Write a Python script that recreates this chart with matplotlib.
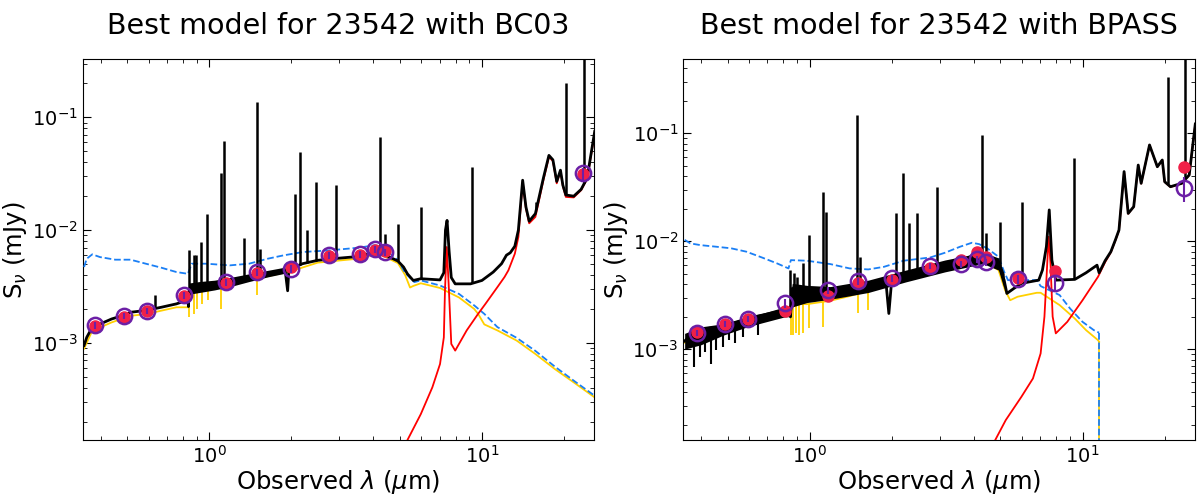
import numpy as np
import matplotlib
matplotlib.use("Agg")
from matplotlib import pyplot as plt

# ---- BC03 panel ----
bc_tot_wav = [0.348, 0.356, 0.373, 0.398, 0.439, 0.483, 0.515, 0.586, 0.667, 0.759, 0.80, 0.836,
              0.840, 0.845, 0.863, 0.921, 1.047, 1.19, 1.40, 1.64, 1.90, 1.94, 1.96, 2.00, 2.20,
              2.50, 2.84, 3.56, 4.05, 4.32, 4.92, 5.16, 5.33, 5.60, 5.97, 7.02, 7.25, 7.35, 7.45,
              7.58, 7.72, 7.98, 9.08, 10.0, 11.0, 11.8, 12.3, 12.7, 13.2, 13.6, 14.1, 14.5, 14.9,
              15.7, 16.8, 17.6, 18.2, 18.8, 19.4, 19.8, 20.3, 21.7, 23.1, 24.3, 25.9]
bc_tot_flux = [9.5e-4, 1.12e-3, 1.38e-3, 1.47e-3, 1.63e-3, 1.75e-3, 1.87e-3, 1.94e-3, 2.07e-3,
               2.22e-3, 2.32e-3, 2.38e-3, 2.1e-3, 3.0e-3, 3.02e-3, 3.08e-3, 3.23e-3, 3.46e-3,
               3.84e-3, 4.10e-3, 4.40e-3, 2.9e-3, 4.45e-3, 4.55e-3, 5.04e-3, 5.40e-3, 5.58e-3,
               5.85e-3, 6.40e-3, 6.18e-3, 5.32e-3, 4.71e-3, 4.10e-3, 3.58e-3, 3.71e-3, 3.62e-3,
               4.2e-3, 1.0e-2, 1.22e-2, 6.5e-3, 3.8e-3, 3.34e-3, 3.34e-3, 3.58e-3, 4.25e-3,
               5.04e-3, 6.0e-3, 6.3e-3, 7.2e-3, 1.0e-2, 2.77e-2, 1.6e-2, 1.2e-2, 1.4e-2, 2.9e-2,
               4.6e-2, 4.2e-2, 2.7e-2, 3.4e-2, 2.5e-2, 2.05e-2, 2.0e-2, 2.3e-2, 2.9e-2, 7.5e-2]

# spread of the noisy model spectrum (upper / lower envelope)
bc_band_wav = [0.845, 0.921, 1.047, 1.19, 1.40, 1.64, 1.90]
bc_band_hi = [3.4e-3, 3.5e-3, 3.6e-3, 3.8e-3, 4.1e-3, 4.4e-3, 4.7e-3]
bc_band_lo = [2.7e-3, 2.8e-3, 2.95e-3, 3.15e-3, 3.5e-3, 3.85e-3, 4.15e-3]

bc_unatt_wav = [0.348, 0.356, 0.373, 0.398, 0.453, 0.515, 0.586, 0.667, 0.759, 0.836, 0.863,
                0.976, 1.19, 1.40, 1.64, 1.87, 2.21, 2.77, 3.56, 4.05, 4.32, 4.92, 5.23, 5.65,
                5.97, 7.02, 8.24, 9.37, 10.2, 11.4, 13.4, 15.7, 18.5, 21.7, 25.9]
bc_unatt_flux = [4.71e-3, 5.58e-3, 6.10e-3, 5.77e-3, 5.47e-3, 5.47e-3, 5.04e-3, 4.65e-3, 4.25e-3,
                 4.10e-3, 5.04e-3, 5.04e-3, 4.87e-3, 5.04e-3, 5.58e-3, 5.97e-3, 6.40e-3, 6.62e-3,
                 7.0e-3, 7.36e-3, 7.08e-3, 5.40e-3, 4.18e-3, 3.46e-3, 3.58e-3, 3.23e-3, 2.72e-3,
                 2.15e-3, 1.81e-3, 1.38e-3, 1.11e-3, 8.5e-4, 6.17e-4, 4.63e-4, 3.40e-4]

bc_att_wav = [0.348, 0.373, 0.439, 0.515, 0.586, 0.667, 0.759, 0.836, 0.845, 0.921, 1.047, 1.19,
              1.40, 1.64, 2.00, 2.50, 3.56, 4.05, 4.32, 4.92, 5.23, 5.45, 5.60, 5.97, 7.02, 8.24,
              9.37, 9.68, 10.2, 11.4, 13.4, 15.7, 18.5, 21.7, 25.9]
bc_att_flux = [8.9e-4, 1.28e-3, 1.52e-3, 1.74e-3, 1.80e-3, 1.93e-3, 2.07e-3, 2.07e-3, 2.85e-3,
               2.92e-3, 3.06e-3, 3.28e-3, 3.65e-3, 3.9e-3, 4.33e-3, 5.15e-3, 5.6e-3, 6.1e-3,
               5.95e-3, 5.1e-3, 4.0e-3, 3.1e-3, 3.2e-3, 3.38e-3, 3.07e-3, 2.53e-3, 2.0e-3,
               1.81e-3, 1.46e-3, 1.29e-3, 1.05e-3, 7.98e-4, 5.87e-4, 4.47e-4, 3.29e-4]

bc_dust_wav = [5.16, 5.97, 6.58, 7.02, 7.25, 7.32, 7.43, 7.55, 7.72, 7.98, 8.79, 9.68, 10.3, 11.4,
               12.1, 12.5, 13.2, 13.6, 14.1, 14.5, 14.9, 15.7, 16.8, 17.6, 18.2, 18.8, 19.4, 19.8,
               20.3, 21.7, 23.1, 24.3, 25.9]
bc_dust_flux = [1.18e-4, 2.34e-4, 4.04e-4, 6.50e-4, 1.12e-3, 2.92e-3, 7.08e-3, 3.34e-3, 9.8e-4,
                8.55e-4, 1.29e-3, 1.81e-3, 2.22e-3, 3.13e-3, 3.84e-3, 4.40e-3, 6.18e-3, 8.69e-3,
                2.68e-2, 1.55e-2, 1.15e-2, 1.31e-2, 2.77e-2, 4.46e-2, 4.1e-2, 2.6e-2, 3.35e-2,
                2.45e-2, 1.97e-2, 1.95e-2, 2.26e-2, 2.85e-2, 7.2e-2]

bc_line_wav = [0.635, 0.843, 0.883, 0.897, 0.935, 0.985, 1.106, 1.138, 1.337, 1.493, 1.531, 2.06,
               2.16, 2.29, 2.46, 2.92, 4.24, 4.40, 4.92, 5.97, 9.23, 15.8, 20.3, 23.7]
bc_line_peak = [2.64e-3, 6.62e-3, 5.97e-3, 5.97e-3, 7.86e-3, 1.38e-2, 3.18e-2, 6.21e-2, 8.57e-3,
                0.138, 6.85e-3, 2.11e-2, 4.89e-2, 9.97e-3, 2.66e-2, 2.49e-2, 6.64e-2, 9.31e-3,
                1.14e-2, 1.61e-2, 3.64e-2, 1.78e-2, 0.200, 0.5]

bc_abs_wav = [0.843, 0.877, 0.904, 0.939, 0.990, 1.110, 1.493]
bc_abs_depth = [1.69e-3, 1.80e-3, 1.98e-3, 2.22e-3, 2.38e-3, 1.98e-3, 2.64e-3]

bc_obs_wav = [0.383, 0.486, 0.592, 0.809, 1.157, 1.502, 1.996, 2.75, 3.57, 4.05, 4.41, 23.5]
bc_obs_flux = [1.43e-3, 1.73e-3, 1.91e-3, 2.64e-3, 3.46e-3, 4.25e-3, 4.55e-3, 5.97e-3, 6.10e-3,
               6.76e-3, 6.40e-3, 3.18e-2]
bc_obs_err = [1.0e-4, 1.1e-4, 1.2e-4, 1.8e-4, 2.5e-4, 3.0e-4, 3.5e-4, 4.0e-4, 4.0e-4, 4.5e-4,
              4.5e-4, 4.0e-3]
bc_mod_flux = [1.40e-3, 1.70e-3, 1.90e-3, 2.60e-3, 3.40e-3, 4.20e-3, 4.70e-3, 5.90e-3, 6.00e-3,
               6.70e-3, 6.50e-3, 3.15e-2]

# ---- BPASS panel ----
bp_tot_wav = [0.348, 0.373, 0.427, 0.483, 0.547, 0.625, 0.713, 0.809, 0.840, 0.850, 0.863, 0.976,
              1.19, 1.40, 1.64, 1.90, 1.95, 2.00, 2.25, 2.77, 3.13, 3.56, 4.05, 4.32, 4.92, 5.16,
              5.28, 5.60, 5.97, 6.91, 7.13, 7.37, 7.55, 7.72, 7.98, 9.37, 10.3, 11.3, 11.5, 12.1,
              12.7, 13.2, 13.6, 14.2, 14.7, 15.4, 16.0, 16.4, 17.6, 18.8, 19.6, 20.0, 21.0, 23.1,
              24.6, 25.9]
bp_tot_flux = [1.19e-3, 1.40e-3, 1.56e-3, 1.61e-3, 1.79e-3, 1.99e-3, 2.14e-3, 2.30e-3, 2.34e-3,
               1.99e-3, 3.65e-3, 3.28e-3, 3.40e-3, 3.73e-3, 4.07e-3, 4.36e-3, 2.14e-3, 4.52e-3,
               4.97e-3, 5.60e-3, 6.14e-3, 6.68e-3, 7.44e-3, 7.3e-3, 6.23e-3, 4.36e-3, 3.28e-3,
               3.65e-3, 4.07e-3, 4.36e-3, 5.41e-3, 8.9e-3, 1.95e-2, 6.68e-3, 4.36e-3, 4.43e-3,
               5.1e-3, 6.0e-3, 5.1e-3, 6.6e-3, 8.0e-3, 1.03e-2, 1.27e-2, 4.42e-2, 1.81e-2, 2.09e-2,
               5.08e-2, 3.44e-2, 7.80e-2, 4.9e-2, 5.66e-2, 3.56e-2, 3.20e-2, 3.44e-2, 4.11e-2, 0.122]

bp_band_wav = [0.348, 0.40, 0.483, 0.586, 0.667, 0.809, 0.840, 0.863, 0.976, 1.19, 1.64, 2.25,
               3.13, 4.32, 4.92, 5.16]
bp_band_hi = [1.40e-3, 1.61e-3, 1.72e-3, 1.99e-3, 2.14e-3, 2.46e-3, 2.46e-3, 4.07e-3, 3.9e-3,
              3.8e-3, 4.36e-3, 5.4e-3, 6.7e-3, 7.9e-3, 7.0e-3, 5.0e-3]
bp_band_lo = [1.0e-3, 1.1e-3, 1.35e-3, 1.6e-3, 1.75e-3, 1.99e-3, 2.0e-3, 2.46e-3, 2.7e-3, 2.9e-3,
              3.35e-3, 4.2e-3, 5.2e-3, 6.2e-3, 5.4e-3, 3.6e-3]

bp_unatt_wav = [0.348, 0.365, 0.398, 0.453, 0.515, 0.586, 0.667, 0.759, 0.836, 0.853, 0.976, 1.19,
                1.40, 1.64, 1.87, 2.21, 2.77, 3.13, 3.56, 3.93, 4.18, 4.47, 4.92, 5.16, 5.33, 5.97,
                6.8, 7.02, 8.24, 9.0, 10.0, 11.0, 11.5]
bp_unatt_flux = [1.03e-2, 9.55e-3, 9.2e-3, 8.9e-3, 8.6e-3, 8.0e-3, 7.08e-3, 6.23e-3, 5.6e-3,
                 6.68e-3, 6.6e-3, 6.14e-3, 5.6e-3, 5.48e-3, 5.79e-3, 6.6e-3, 7.08e-3, 7.82e-3,
                 8.9e-3, 9.68e-3, 9.4e-3, 8.6e-3, 7.18e-3, 5.21e-3, 4.36e-3, 4.36e-3, 4.36e-3,
                 3.84e-3, 3.17e-3, 2.38e-3, 1.79e-3, 1.50e-3, 1.42e-3]

bp_att_wav = [0.348, 0.373, 0.427, 0.483, 0.547, 0.625, 0.713, 0.809, 0.840, 0.863, 0.976, 1.19,
              1.40, 1.64, 2.00, 2.25, 2.77, 3.13, 3.56, 4.05, 4.32, 4.92, 5.2, 5.43, 5.78, 6.8,
              7.02, 8.24, 9.37, 10.3, 11.4, 11.5]
bp_att_flux = [1.15e-3, 1.32e-3, 1.48e-3, 1.52e-3, 1.71e-3, 1.88e-3, 1.99e-3, 2.14e-3, 2.14e-3,
               2.65e-3, 2.61e-3, 2.81e-3, 3.1e-3, 3.48e-3, 4.07e-3, 4.36e-3, 5.04e-3, 5.48e-3,
               6.0e-3, 6.6e-3, 6.5e-3, 5.41e-3, 3.52e-3, 2.84e-3, 3.06e-3, 3.33e-3, 3.33e-3,
               2.56e-3, 1.92e-3, 1.50e-3, 1.21e-3, 1.17e-3]

bp_dust_wav = [4.64, 5.23, 5.97, 6.58, 7.02, 7.25, 7.37, 7.51, 7.63, 7.77, 7.98, 8.79, 10.0, 11.4,
               12.1, 12.7, 13.2, 13.6, 14.2, 14.7, 15.4, 16.0, 16.4, 17.6, 18.8, 19.6, 20.0, 21.0,
               23.1, 24.6, 25.9]
bp_dust_flux = [1.24e-4, 2.2e-4, 3.62e-4, 5.35e-4, 9.12e-4, 2.0e-3, 4.36e-3, 1.1e-2, 6.23e-3,
                2.0e-3, 1.40e-3, 1.79e-3, 2.84e-3, 4.69e-3, 6.4e-3, 7.9e-3, 1.02e-2, 1.26e-2,
                4.4e-2, 1.8e-2, 2.08e-2, 5.05e-2, 3.42e-2, 7.78e-2, 4.88e-2, 5.64e-2, 3.54e-2,
                3.18e-2, 3.42e-2, 4.09e-2, 0.122]

bp_line_wav = [0.849, 0.877, 0.897, 0.945, 0.998, 1.117, 1.146, 1.493, 1.531, 2.07, 2.20, 2.31,
               2.48, 2.94, 4.29, 4.43, 4.97, 6.01, 9.29, 20.5, 23.8]
bp_line_peak = [5.41e-3, 5.04e-3, 4.69e-3, 6.23e-3, 1.14e-2, 2.88e-2, 1.88e-2, 0.148, 7.18e-3,
                1.84e-2, 4.26e-2, 1.46e-2, 1.81e-2, 3.20e-2, 9.66e-2, 1.18e-2, 1.52e-2, 2.32e-2,
                5.86e-2, 0.336, 0.7]

bp_abs_wav = [0.854, 0.870, 0.890, 0.911, 0.944, 0.998, 1.117, 1.502, 1.64]
bp_abs_depth = [1.35e-3, 1.35e-3, 1.40e-3, 1.35e-3, 1.40e-3, 1.56e-3, 1.61e-3, 2.14e-3, 2.30e-3]

bp_noise_wav = [0.377, 0.395, 0.414, 0.436, 0.453, 0.480, 0.507, 0.532, 0.571, 0.646]
bp_noise_depth = [6.86e-4, 8.49e-4, 9.45e-4, 7.36e-4, 9.79e-4, 1.05e-3, 1.21e-3, 1.13e-3,
                  1.30e-3, 1.35e-3]

bp_obs_wav = [0.385, 0.488, 0.595, 0.809, 1.164, 1.507, 1.996, 2.77, 3.59, 4.09, 4.44, 5.78,
              7.93, 23.6]
bp_obs_flux = [1.42e-3, 1.71e-3, 1.92e-3, 2.65e-3, 3.52e-3, 4.27e-3, 4.52e-3, 5.88e-3, 6.10e-3,
               6.79e-3, 6.37e-3, 4.43e-3, 4.07e-3, 3.13e-2]
bp_obs_err = [1.0e-4, 1.1e-4, 1.2e-4, 2.5e-4, 2.8e-4, 3.0e-4, 3.5e-4, 4.0e-4, 4.0e-4, 4.5e-4,
              4.5e-4, 4.5e-4, 7.0e-4, 8.0e-3]
bp_mod_flux = [1.45e-3, 1.71e-3, 1.92e-3, 2.25e-3, 3.10e-3, 4.07e-3, 4.36e-3, 5.60e-3, 6.68e-3,
               8.00e-3, 7.08e-3, 4.52e-3, 5.29e-3, 4.84e-2]

BLUE = "#1a7ff5"
YELLOW = "#ffd000"
PURPLE = "#6c1fa6"
REDPT = "#f02048"


def draw_panel(ax, d, ylim, title):
    ax.plot(d["att_wav"], d["att_flux"], color=YELLOW, lw=1.3, zorder=2)
    att_at = np.interp(np.log(d["abs_wav"]), np.log(d["att_wav"]), d["att_flux"])
    ax.vlines(d["abs_wav"], d["abs_depth"], att_at, color=YELLOW, lw=1.3, zorder=2)
    ax.plot(d["unatt_wav"], d["unatt_flux"], color=BLUE, ls="--", lw=1.3, zorder=3)
    if d.get("drop") is not None:
        ax.plot([d["drop"], d["drop"]], [d["att_flux"][-1], 1e-6], color=YELLOW, lw=1.3, zorder=2)
        ax.plot([d["drop"], d["drop"]], [d["unatt_flux"][-1], 1e-6], color=BLUE, ls="--",
                lw=1.3, zorder=3)
    ax.plot(d["dust_wav"], d["dust_flux"], color="red", lw=1.3, zorder=4)
    ax.fill_between(d["band_wav"], d["band_lo"], d["band_hi"], color="black", lw=0, zorder=5)
    ax.plot(d["tot_wav"], d["tot_flux"], color="black", lw=2, zorder=5)
    tot_at = np.interp(np.log(d["line_wav"]), np.log(d["tot_wav"]), d["tot_flux"])
    ax.vlines(d["line_wav"], tot_at, d["line_peak"], color="black", lw=1.8, zorder=5)
    if d.get("noise_wav") is not None:
        base = np.interp(np.log(d["noise_wav"]), np.log(d["tot_wav"]), d["tot_flux"])
        ax.vlines(d["noise_wav"], d["noise_depth"], base, color="black", lw=1.5, zorder=5)
    ax.plot(d["obs_wav"], d["mod_flux"], "o", color=REDPT, ms=8, zorder=6)
    ax.errorbar(d["obs_wav"], d["obs_flux"], yerr=d["obs_err"], fmt="o", mfc="none",
                mec=PURPLE, ecolor=PURPLE, mew=1.8, ms=11, elinewidth=1.5, zorder=7)
    ax.set_xscale("log")
    ax.set_yscale("log")
    ax.set_xlim(0.344, 25.8)
    ax.set_ylim(*ylim)
    ax.set_xlabel(r"Observed $\lambda$ ($\mu$m)", fontsize=17.5, labelpad=1)
    ax.set_ylabel(r"S$_\nu$ (mJy)", fontsize=17.5, labelpad=2)
    ax.set_title(title, fontsize=20.5, pad=18)
    ax.tick_params(which="both", direction="in", top=True, right=True, labelsize=14)
    ax.tick_params(which="major", length=6)
    ax.tick_params(which="minor", length=3)


bc = dict(tot_wav=bc_tot_wav, tot_flux=bc_tot_flux, unatt_wav=bc_unatt_wav,
          unatt_flux=bc_unatt_flux, att_wav=bc_att_wav, att_flux=bc_att_flux,
          dust_wav=bc_dust_wav, dust_flux=bc_dust_flux, line_wav=bc_line_wav,
          line_peak=bc_line_peak, abs_wav=bc_abs_wav, abs_depth=bc_abs_depth,
          band_wav=bc_band_wav, band_lo=bc_band_lo, band_hi=bc_band_hi,
          obs_wav=bc_obs_wav, obs_flux=bc_obs_flux, obs_err=bc_obs_err, mod_flux=bc_mod_flux)
bp = dict(tot_wav=bp_tot_wav, tot_flux=bp_tot_flux, unatt_wav=bp_unatt_wav,
          unatt_flux=bp_unatt_flux, att_wav=bp_att_wav, att_flux=bp_att_flux,
          dust_wav=bp_dust_wav, dust_flux=bp_dust_flux, line_wav=bp_line_wav,
          line_peak=bp_line_peak, abs_wav=bp_abs_wav, abs_depth=bp_abs_depth,
          band_wav=bp_band_wav, band_lo=bp_band_lo, band_hi=bp_band_hi,
          noise_wav=bp_noise_wav, noise_depth=bp_noise_depth, drop=11.5,
          obs_wav=bp_obs_wav, obs_flux=bp_obs_flux, obs_err=bp_obs_err, mod_flux=bp_mod_flux)

fig = plt.figure(figsize=(12, 4.95), dpi=100)
ax1 = fig.add_axes([0.0689, 0.1105, 0.4263, 0.7697])
ax2 = fig.add_axes([0.5694, 0.1105, 0.4263, 0.7697])
draw_panel(ax1, bc, (1.37e-4, 0.327), "Best model for 23542 with BC03")
draw_panel(ax2, bp, (1.43e-4, 0.485), "Best model for 23542 with BPASS")
fig.savefig("out.png", dpi=100)
